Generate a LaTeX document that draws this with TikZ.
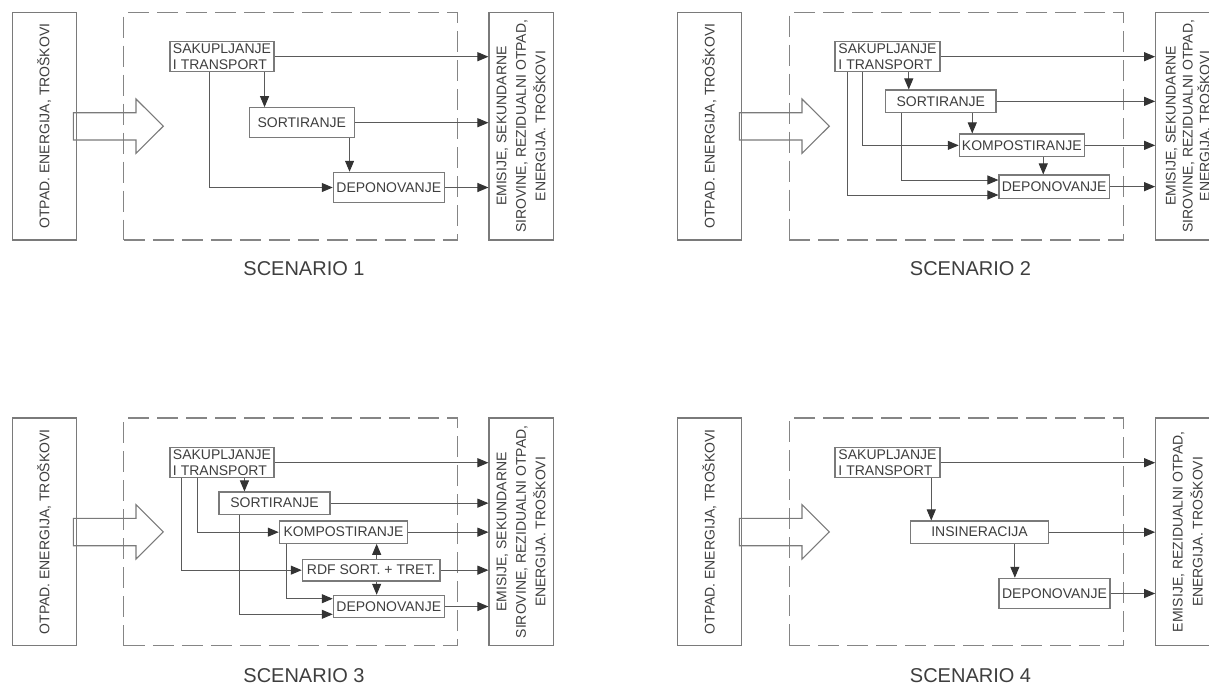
\documentclass[tikz,border=0pt]{standalone}
\usepackage{fontspec}
\setmainfont{Liberation Sans}
\usetikzlibrary{arrows.meta}
\definecolor{boxc}{HTML}{7A7A7A}
\definecolor{dashc}{HTML}{858585}
\definecolor{linec}{HTML}{5A5A5A}
\definecolor{tipc}{HTML}{333333}
\definecolor{txt}{HTML}{3E3E3E}
\newcommand\bxfont{\fontsize{14pt}{15.5pt}\selectfont}
\newcommand\bigarrowshape[2]{%
  \draw[hollow, shift={(#1,#2)}] (73.3,112.7) -- (136,112.7) -- (136,99) -- (163.3,126.2)
    -- (136,153.3) -- (136,140) -- (73.3,140) -- cycle;}
\begin{document}
\begin{tikzpicture}[x=1pt,y=-1pt,
  box/.style={draw=boxc, line width=1.1pt, inner sep=0pt, text=txt, font=\bxfont},
  inbox/.style={box, rotate=90, minimum width=227.7pt, minimum height=64pt},
  outbox/.style={box, rotate=90, minimum width=227.7pt, minimum height=64.3pt, align=center},
  frame/.style={draw=dashc, line width=1.1pt, dash pattern=on 21pt off 8pt, minimum width=333.5pt, minimum height=227.7pt, inner sep=0pt},
  hollow/.style={draw=boxc, line width=1.1pt},
  arr/.style={draw=linec, line width=1pt, -{Triangle[length=11pt,width=9pt,color=tipc]}},
  lab/.style={text=txt, font=\fontsize{20pt}{24pt}\selectfont, inner sep=0pt}]
\useasboundingbox (0,0) rectangle (1209,686);
\clip (0,0) rectangle (1209,686);

% ================= SCENARIO 1 =================
\node[inbox] (in1) at (44.15,126.15) {OTPAD. ENERGIJA, TROŠKOVI};
\node[frame] (fr1) at (290.65,126.15) {};
\node[outbox, font=\fontsize{14pt}{19.5pt}\selectfont] (out1) at (521.15,126.15) {EMISIJE, SEKUNDARNE\\SIROVINE, REZIDUALNI OTPAD,\\ENERGIJA. TROŠKOVI};
\bigarrowshape{0}{0}
\node[box, minimum width=104pt, minimum height=30pt, align=left] (sak1) at (222,56.7) {SAKUPLJANJE\\I TRANSPORT};
\node[box, minimum width=105pt, minimum height=30pt] (sor1) at (301.8,122.7) {SORTIRANJE};
\node[box, minimum width=111pt, minimum height=30.4pt] (dep1) at (388.8,187.5) {DEPONOVANJE};
\draw[arr] (sak1.east) -- (sak1.east -| out1.north);
\draw[arr] (sor1.east) -- (sor1.east -| out1.north);
\draw[arr] (dep1.east) -- (dep1.east -| out1.north);
\draw[arr] ([xshift=-10pt]sak1.south east) -- ([xshift=-10pt]sak1.south east |- sor1.north);
\draw[arr] ([xshift=-5.3pt]sor1.south east) -- ([xshift=-5.3pt]sor1.south east |- dep1.north);
\draw[arr] ([xshift=40pt]sak1.south west) |- (dep1.west);
\node[lab] (lab1) at (304,269) {SCENARIO 1};

% ================= SCENARIO 2 =================
\node[inbox] (in2) at (709.5,126.15) {OTPAD. ENERGIJA, TROŠKOVI};
\node[frame, minimum width=334pt] (fr2) at (956.3,126.15) {};
\node[outbox, font=\fontsize{14pt}{17pt}\selectfont] (out2) at (1187.85,126.15) {EMISIJE, SEKUNDARNE\\SIROVINE, REZIDUALNI OTPAD,\\ENERGIJA. TROŠKOVI};
\bigarrowshape{666}{0}
\node[box, minimum width=105pt, minimum height=30pt, align=left] (sak2) at (887.5,56.7) {SAKUPLJANJE\\I TRANSPORT};
\node[box, minimum width=110.3pt, minimum height=22.7pt] (sor2) at (940.85,101.35) {SORTIRANJE};
\node[box, minimum width=125pt, minimum height=22.7pt] (kom2) at (1021.8,145.35) {KOMPOSTIRANJE};
\node[box, minimum width=110.3pt, minimum height=23.3pt] (dep2) at (1054.15,186.65) {DEPONOVANJE};
\draw[arr] (sak2.east) -- (sak2.east -| out2.north);
\draw[arr] (sor2.east) -- (sor2.east -| out2.north);
\draw[arr] (kom2.east) -- (kom2.east -| out2.north);
\draw[arr] (dep2.east) -- (dep2.east -| out2.north);
\draw[arr] ([xshift=74.3pt]sak2.south west) -- ([xshift=74.3pt]sak2.south west |- sor2.north);
\draw[arr] ([xshift=-24.3pt]sor2.south east) -- ([xshift=-24.3pt]sor2.south east |- kom2.north);
\draw[arr] ([xshift=-41.6pt]kom2.south east) -- ([xshift=-41.6pt]kom2.south east |- dep2.north);
\draw[arr] ([xshift=27.7pt]sak2.south west) |- (kom2.west);
\draw[arr] ([xshift=13.3pt]sak2.south west) |- ([yshift=-8.35pt]dep2.west);
\draw[arr] ([xshift=16.6pt]sor2.south west) |- ([yshift=6.65pt]dep2.west);
\node[lab] (lab2) at (970.5,269) {SCENARIO 2};

% ================= SCENARIO 3 =================
\node[inbox] (in3) at (44.15,531.85) {OTPAD. ENERGIJA, TROŠKOVI};
\node[frame] (fr3) at (290.65,531.85) {};
\node[outbox, font=\fontsize{14pt}{19.5pt}\selectfont] (out3) at (521.15,531.85) {EMISIJE, SEKUNDARNE\\SIROVINE, REZIDUALNI OTPAD,\\ENERGIJA. TROŠKOVI};
\bigarrowshape{0}{405.7}
\node[box, minimum width=104pt, minimum height=30pt, align=left] (sak3) at (222,462.7) {SAKUPLJANJE\\I TRANSPORT};
\node[box, minimum width=111pt, minimum height=22.3pt] (sor3) at (274.5,503.15) {SORTIRANJE};
\node[box, minimum width=128.4pt, minimum height=22.3pt] (kom3) at (343.5,532.15) {KOMPOSTIRANJE};
\node[box, minimum width=137.7pt, minimum height=21.7pt] (rdf3) at (371.15,570.15) {RDF SORT. + TRET.};
\node[box, minimum width=111pt, minimum height=22.4pt] (dep3) at (388.8,606.5) {DEPONOVANJE};
\draw[arr] (sak3.east) -- (sak3.east -| out3.north);
\draw[arr] (sor3.east) -- (sor3.east -| out3.north);
\draw[arr] (kom3.east) -- (kom3.east -| out3.north);
\draw[arr] (rdf3.east) -- (rdf3.east -| out3.north);
\draw[arr] (dep3.east) -- (dep3.east -| out3.north);
\draw[arr] ([xshift=75pt]sak3.south west) -- ([xshift=75pt]sak3.south west |- sor3.north);
\draw[arr] ([xshift=27.7pt]sak3.south west) |- (kom3.west);
\draw[arr] ([xshift=11.7pt]sak3.south west) |- (rdf3.west);
\draw[arr] ([xshift=21pt]sor3.south west) |- ([yshift=-7.8pt]dep3.west);
\draw[arr] ([xshift=8pt]kom3.south west) |- ([yshift=7.8pt]dep3.west);
\draw[arr] ([xshift=5.5pt]rdf3.north) -- ([xshift=5.5pt]rdf3.north |- kom3.south);
\draw[arr] ([xshift=5.5pt]rdf3.south) -- ([xshift=5.5pt]rdf3.south |- dep3.north);
\node[lab] (lab3) at (304,676) {SCENARIO 3};

% ================= SCENARIO 4 =================
\node[inbox] (in4) at (709.5,531.85) {OTPAD. ENERGIJA, TROŠKOVI};
\node[frame, minimum width=334pt] (fr4) at (956.3,531.85) {};
\node[outbox, font=\fontsize{14pt}{20pt}\selectfont] (out4) at (1187.85,531.85) {EMISIJE, REZIDUALNI OTPAD,\\ENERGIJA. TROŠKOVI};
\bigarrowshape{666}{405.7}
\node[box, minimum width=105pt, minimum height=30pt, align=left] (sak4) at (887.5,462.7) {SAKUPLJANJE\\I TRANSPORT};
\node[box, minimum width=137.6pt, minimum height=22.3pt] (ins4) at (979.5,532.15) {INSINERACIJA};
\node[box, minimum width=111pt, minimum height=30.4pt] (dep4) at (1054.5,593.5) {DEPONOVANJE};
\draw[arr] (sak4.east) -- (sak4.east -| out4.north);
\draw[arr] (ins4.east) -- (ins4.east -| out4.north);
\draw[arr] (dep4.east) -- (dep4.east -| out4.north);
\draw[arr] ([xshift=-9.3pt]sak4.south east) -- ([xshift=-9.3pt]sak4.south east |- ins4.north);
\draw[arr] ([xshift=-34pt]ins4.south east) -- ([xshift=-34pt]ins4.south east |- dep4.north);
\node[lab] (lab4) at (970.5,676) {SCENARIO 4};
\end{tikzpicture}
\end{document}
